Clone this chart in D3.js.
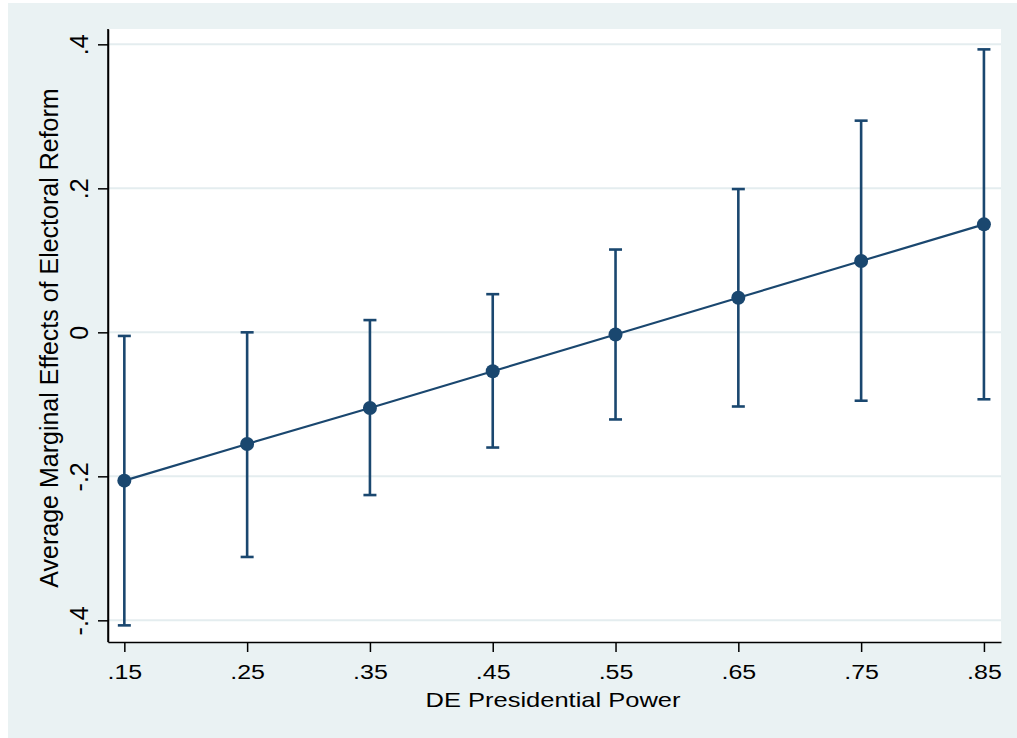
<!DOCTYPE html>
<html>
<head>
<meta charset="utf-8">
<script src="https://cdn.jsdelivr.net/npm/d3@7/dist/d3.min.js"></script>
<style>
html, body { margin: 0; padding: 0; background: #ffffff; }
svg { display: block; }
text { font-family: "Liberation Sans", Arial, "DejaVu Sans", sans-serif; fill: #000; }
</style>
</head>
<body>
<svg id="chart" width="1017" height="738"></svg>
<script>
// Data
const presPower = [0.15, 0.25, 0.35, 0.45, 0.55, 0.65, 0.75, 0.85];
const effect    = [-0.206, -0.155, -0.105, -0.054, -0.003, 0.048, 0.099, 0.150];
const ciLower   = [-0.407, -0.312, -0.226, -0.160, -0.121, -0.103, -0.095, -0.093];
const ciUpper   = [-0.005, 0.000, 0.017, 0.053, 0.115, 0.199, 0.294, 0.393];
const xTickValues = [0.15, 0.25, 0.35, 0.45, 0.55, 0.65, 0.75, 0.85];
const xTickLabels = [".15", ".25", ".35", ".45", ".55", ".65", ".75", ".85"];
const yTickValues = [-0.4, -0.2, 0, 0.2, 0.4];
const yTickLabels = ["-.4", "-.2", "0", ".2", ".4"];
const xTitle = "DE Presidential Power";
const yTitle = "Average Marginal Effects of Electoral Reform";

const navy = "#1A476F";
const bg = "#EAF2F3";

const svg = d3.select("#chart");
const plot = { left: 108, right: 1001, top: 29, bottom: 642 };

// outer graph region
svg.append("rect").attr("x", 8).attr("y", 3).attr("width", 1017 - 8).attr("height", 738 - 3).attr("fill", bg);
// plot region
svg.append("rect").attr("x", plot.left).attr("y", plot.top)
  .attr("width", plot.right - plot.left).attr("height", plot.bottom - plot.top).attr("fill", "#ffffff");

const x = d3.scaleLinear().domain([0.1367, 0.8639]).range([plot.left, plot.right]);
const y = d3.scaleLinear().domain([-0.4301, 0.4213]).range([plot.bottom, plot.top]);

// gridlines
svg.append("g").selectAll("line").data(yTickValues).join("line")
  .attr("x1", plot.left).attr("x2", plot.right)
  .attr("y1", d => y(d)).attr("y2", d => y(d))
  .attr("stroke", "#E4EDEF").attr("stroke-width", 2);

// error bars
const data = presPower.map((p, i) => ({ p, e: effect[i], lo: ciLower[i], hi: ciUpper[i] }));
const eb = svg.append("g");
eb.selectAll("line.v").data(data).join("line").attr("class", "v")
  .attr("x1", d => x(d.p)).attr("x2", d => x(d.p))
  .attr("y1", d => y(d.lo)).attr("y2", d => y(d.hi))
  .attr("stroke", navy).attr("stroke-width", 2.6);
eb.selectAll("line.capHi").data(data).join("line").attr("class", "capHi")
  .attr("x1", d => x(d.p) - 6.5).attr("x2", d => x(d.p) + 6.5)
  .attr("y1", d => y(d.hi)).attr("y2", d => y(d.hi))
  .attr("stroke", navy).attr("stroke-width", 2.6);
eb.selectAll("line.capLo").data(data).join("line").attr("class", "capLo")
  .attr("x1", d => x(d.p) - 6.5).attr("x2", d => x(d.p) + 6.5)
  .attr("y1", d => y(d.lo)).attr("y2", d => y(d.lo))
  .attr("stroke", navy).attr("stroke-width", 2.6);

// connecting line
svg.append("path").datum(data)
  .attr("d", d3.line().x(d => x(d.p)).y(d => y(d.e)))
  .attr("fill", "none").attr("stroke", navy).attr("stroke-width", 2.2);

// markers
svg.append("g").selectAll("circle").data(data).join("circle")
  .attr("cx", d => x(d.p)).attr("cy", d => y(d.e)).attr("r", 7)
  .attr("fill", navy);

// x axis
const xAxis = d3.axisBottom(x).tickValues(xTickValues)
  .tickFormat((d, i) => xTickLabels[i]).tickSize(10).tickSizeOuter(0);
const gx = svg.append("g").attr("transform", `translate(0,${plot.bottom})`).call(xAxis);
gx.select(".domain").attr("stroke", "#000").attr("stroke-width", 1.5);
gx.selectAll(".tick line").attr("stroke", "#000").attr("stroke-width", 1.5);
gx.selectAll(".tick text")
  .attr("y", null).attr("dy", null)
  .attr("transform", "translate(0,37) scale(1,0.84)")
  .attr("font-size", 25).attr("text-anchor", "middle").attr("fill", "#000");

// y axis
const yAxis = d3.axisLeft(y).tickValues(yTickValues)
  .tickFormat((d, i) => yTickLabels[i]).tickSize(10).tickSizeOuter(0);
const gy = svg.append("g").attr("transform", `translate(${plot.left},0)`).call(yAxis);
gy.select(".domain").attr("stroke", "#000").attr("stroke-width", 1.5);
gy.selectAll(".tick line").attr("stroke", "#000").attr("stroke-width", 1.5);
gy.selectAll(".tick text")
  .attr("x", null).attr("dy", null)
  .attr("transform", "translate(-20,0) rotate(-90)")
  .attr("font-size", 25).attr("text-anchor", "middle").attr("fill", "#000");

// redraw axis lines to span full plot region
svg.append("line").attr("x1", plot.left).attr("x2", plot.left).attr("y1", plot.top).attr("y2", plot.bottom)
  .attr("stroke", "#000").attr("stroke-width", 1.5);

// axis titles
svg.append("text")
  .attr("transform", `translate(553,707) scale(1,0.82)`)
  .attr("text-anchor", "middle").attr("font-size", 25.5)
  .text(xTitle);
svg.append("text")
  .attr("transform", `translate(58,338) rotate(-90)`)
  .attr("text-anchor", "middle").attr("font-size", 25)
  .text(yTitle);
</script>
</body>
</html>
